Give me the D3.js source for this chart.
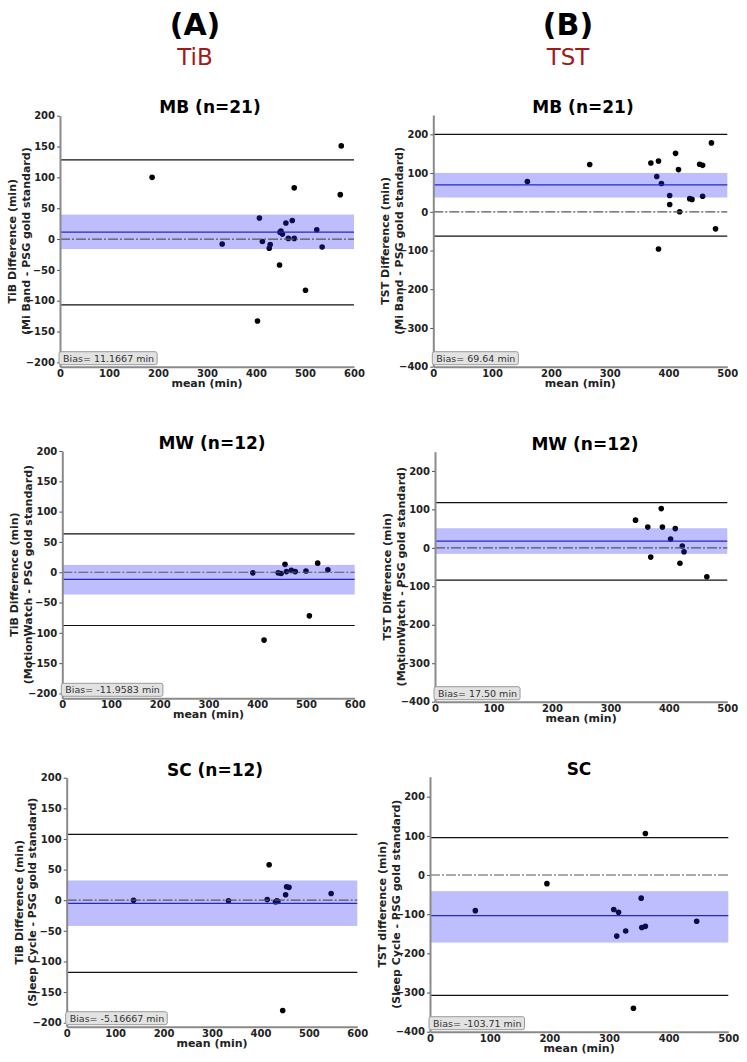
<!DOCTYPE html>
<html>
<head>
<meta charset="utf-8">
<script src="https://cdn.jsdelivr.net/npm/d3@7"></script>
<style>
body { margin: 0; background: #fff; }
text { font-family: "DejaVu Sans", Verdana, sans-serif; }
</style>
</head>
<body>
<div id="container"></div>
<script>
// values (mean, difference) per panel
const tibMbMean = [188, 331, 407, 413, 427, 429, 448, 403, 449, 451, 454, 461, 466, 474, 478, 478, 501, 524, 535, 572, 574]
const tibMbDiff = [100, -8, 34, -4, -15, -9, -42, -133, 11, 13, 8, 26, 1, 30, 1, 83, -83, 15, -13, 72, 151]
const tstMbMean = [160, 266, 370, 383, 380, 388, 383, 402, 402, 412, 417, 419, 436, 440, 453, 458, 458, 473, 480]
const tstMbDiff = [78, 122, 126, 131, 91, 73, -96, 19, 42, 151, 109, 0, 34, 32, 123, 120, 40, 178, -44]
const tibMwMean = [391, 414, 443, 449, 457, 460, 470, 478, 500, 507, 524, 545]
const tibMwDiff = [-1, -112, -1, -2, 13, 1, 3, 1, 2, -72, 15, 4]
const tstMwMean = [343, 364, 369, 387, 389, 403, 411, 419, 423, 426, 465]
const tstMwDiff = [72, 54, -24, 102, 54, 23, 50, -40, 5, -10, -75]
const tibScMean = [138, 334, 414, 418, 431, 434, 436, 452, 454, 459, 446, 546]
const tibScDiff = [0, -1, 1, 58, -3, -1, -2, 9, 22, 21, -180, 11]
const tstScMean = [76, 196, 308, 316, 313, 328, 354, 355, 361, 361, 341, 447]
const tstScDiff = [-91, -22, -88, -95, -156, -143, -59, -134, -131, 106, -340, -118]

// panel order: A1, B1, A2, B2, A3, B3
const panelTitles = ['MB (n=21)', 'MB (n=21)', 'MW (n=12)', 'MW (n=12)', 'SC (n=12)', 'SC']
const yLabel1 = ['TiB Difference (min)', 'TST Difference (min)', 'TiB Difference (min)', 'TST Difference (min)', 'TiB Difference (min)', 'TST difference (min)']
const yLabel2 = ['(Mi Band - PSG gold standard)', '(Mi Band - PSG gold standard)', '(MotionWatch - PSG gold standard)', '(MotionWatch - PSG gold standard)', '(Sleep Cycle - PSG gold standard)', '(Sleep Cycle - PSG gold standard)']
const biasText = ['11.1667', '69.64', '-11.9583', '17.50', '-5.16667', '-103.71']
const biasValues = [11.1667, 69.64, -11.9583, 17.5, -5.16667, -103.71]
const upperLoa = [128.5, 200, 63.2, 117.7, 107.4, 95.3]
const lowerLoa = [-106.8, -62.7, -87.9, -84, -117.7, -307.3]
const ciUpper = [39.6, 100.4, 12.1, 51.1, 32.2, -41.2]
const ciLower = [-16.3, 36.9, -36.8, -15.6, -42, -172.5]
const tibTicksY = [-200, -150, -100, -50, 0, 50, 100, 150, 200]
const tstTicksY = [-400, -300, -200, -100, 0, 100, 200]
const tibTicksX = [0, 100, 200, 300, 400, 500, 600]
const tstTicksX = [0, 100, 200, 300, 400, 500]
const columnLetters = ['(A)', '(B)']
const columnNames = ['TiB', 'TST']

const means = [tibMbMean, tstMbMean, tibMwMean, tstMwMean, tibScMean, tstScMean]
const diffs = [tibMbDiff, tstMbDiff, tibMwDiff, tstMwDiff, tibScDiff, tstScDiff]

const w = 747
const h = 1062

// pixel boxes of each plot area
const layout = [
    {l: 60, r: 354, t: 115.7, b: 366.7, yDom: [-207, 200], xMax: 600, tx: 210, ty: 113},
    {l: 433.3, r: 727.3, t: 115, b: 366.7, yDom: [-400, 250], xMax: 500, tx: 583, ty: 113},
    {l: 62.3, r: 354.7, t: 451, b: 698.3, yDom: [-208, 200], xMax: 600, tx: 212, ty: 449},
    {l: 435, r: 727.3, t: 451.7, b: 701.7, yDom: [-400, 250], xMax: 500, tx: 585, ty: 450},
    {l: 66.7, r: 357.3, t: 777.7, b: 1026.7, yDom: [-206.5, 200], xMax: 600, tx: 215, ty: 776},
    {l: 430, r: 728.3, t: 776.7, b: 1031.7, yDom: [-400, 251], xMax: 500, tx: 579, ty: 775}
]

const svg = d3.select('#container')
    .append('svg')
    .attr('width', w)
    .attr('height', h)

// column headers
const headX = [195, 568]
columnLetters.forEach((c, i) => {
    svg.append('text')
        .attr('x', headX[i]).attr('y', 35)
        .attr('text-anchor', 'middle')
        .attr('font-size', 30).attr('font-weight', 'bold')
        .text(c)
    svg.append('text')
        .attr('x', headX[i]).attr('y', 65)
        .attr('text-anchor', 'middle')
        .attr('font-size', 23).attr('fill', '#9e1b1b')
        .text(columnNames[i])
})

layout.forEach((p, i) => {
    const isTib = i % 2 === 0
    const x = d3.scaleLinear([0, p.xMax], [p.l, p.r])
    const y = d3.scaleLinear(p.yDom, [p.b, p.t])
    const g = svg.append('g')

    // points
    g.selectAll('circle')
        .data(means[i].map((m, k) => [m, diffs[i][k]]))
        .enter()
        .append('circle')
        .attr('cx', d => x(d[0]))
        .attr('cy', d => y(d[1]))
        .attr('r', 2.8)
        .attr('fill', '#000')

    // confidence band of the bias
    g.append('rect')
        .attr('x', p.l)
        .attr('y', y(ciUpper[i]))
        .attr('width', p.r - p.l)
        .attr('height', y(ciLower[i]) - y(ciUpper[i]))
        .attr('fill', 'rgb(40,40,255)')
        .attr('fill-opacity', 0.3)

    // zero line
    g.append('line')
        .attr('x1', p.l).attr('x2', p.r)
        .attr('y1', y(0)).attr('y2', y(0))
        .attr('stroke', '#555').attr('stroke-width', 1.2)
        .attr('stroke-dasharray', '10,2,2,2')

    // limits of agreement
    ;[upperLoa[i], lowerLoa[i]].forEach(v => {
        g.append('line')
            .attr('x1', p.l).attr('x2', p.r)
            .attr('y1', y(v)).attr('y2', y(v))
            .attr('stroke', '#111').attr('stroke-width', 1.2)
    })

    // bias line
    g.append('line')
        .attr('x1', p.l).attr('x2', p.r)
        .attr('y1', y(biasValues[i])).attr('y2', y(biasValues[i]))
        .attr('stroke', '#2626c8').attr('stroke-width', 1.3)

    const axisY = d3.axisLeft(y)
        .tickValues(isTib ? tibTicksY : tstTicksY)
        .tickSize(3).tickSizeOuter(0).tickPadding(2)
        .tickFormat(d => d < 0 ? '\u2212' + Math.abs(d) : d)
    const axisX = d3.axisBottom(x)
        .tickValues(isTib ? tibTicksX : tstTicksX)
        .tickSize(0).tickSizeOuter(0).tickPadding(3)

    const ay = g.append('g')
        .attr('transform', `translate(${p.l},0)`)
        .call(axisY)
    const ax = g.append('g')
        .attr('transform', `translate(0,${p.b})`)
        .call(axisX)

    ;[ay, ax].forEach(a => {
        a.select('.domain').attr('stroke', '#8a8a8a').attr('stroke-width', 2)
        a.selectAll('.tick line').attr('stroke', '#555')
        a.selectAll('text')
            .attr('font-family', '"DejaVu Sans", Verdana, sans-serif')
            .attr('font-size', 10)
            .attr('font-weight', 'bold')
            .attr('fill', '#222')
    })

    // title
    g.append('text')
        .attr('x', p.tx).attr('y', p.ty)
        .attr('text-anchor', 'middle')
        .attr('font-size', 17).attr('font-weight', 'bold')
        .text(panelTitles[i])

    // axis labels
    const cy = (p.t + p.b) / 2
    g.append('text')
        .attr('transform', `translate(${p.l - 44},${cy}) rotate(-90)`)
        .attr('text-anchor', 'middle')
        .attr('font-size', 11).attr('font-weight', 'bold').attr('fill', '#222')
        .text(yLabel1[i])
    g.append('text')
        .attr('transform', `translate(${p.l - 30.5},${cy}) rotate(-90)`)
        .attr('text-anchor', 'middle')
        .attr('font-size', 11).attr('font-weight', 'bold').attr('fill', '#222')
        .text(yLabel2[i])
    g.append('text')
        .attr('x', (p.l + p.r) / 2).attr('y', p.b + 20)
        .attr('text-anchor', 'middle')
        .attr('font-size', 11).attr('font-weight', 'bold').attr('fill', '#222')
        .text('mean (min)')

    // bias box
    const bt = g.append('text')
        .attr('x', p.l + 3).attr('y', p.b - 5)
        .attr('font-size', 9.5).attr('fill', '#333')
        .text(`Bias= ${biasText[i]} min`)
    const bw = bt.node().getComputedTextLength()
    g.insert('rect', () => bt.node())
        .attr('x', p.l - 1).attr('y', p.b - 15)
        .attr('width', bw + 7).attr('height', 13)
        .attr('rx', 2)
        .attr('fill', '#e2e2e2').attr('stroke', '#9a9a9a').attr('stroke-width', 1)
})
</script>
</body>
</html>
